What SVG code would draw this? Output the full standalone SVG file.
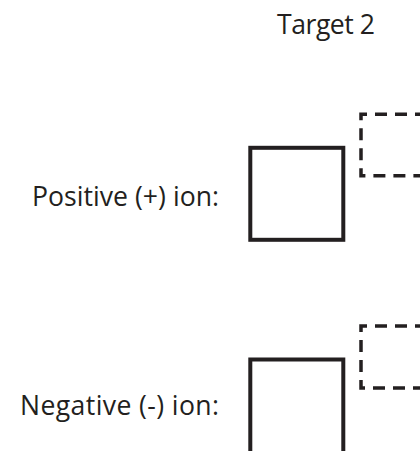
<svg xmlns="http://www.w3.org/2000/svg" width="420" height="451" viewBox="0 0 420 451">
<style>
.t{font-family:"Open Sans","Liberation Sans",Arial,sans-serif;font-size:26.6px;fill:#231f20}
.box{fill:none;stroke:#231f20;stroke-width:4}
.dash{fill:none;stroke:#231f20;stroke-width:3.5;stroke-dasharray:12 8;stroke-dashoffset:2}
</style>
<rect width="420" height="451" fill="#ffffff"/>
<g id="title"><text class="t" x="277" y="34" textLength="98" lengthAdjust="spacing">Target 2</text></g>
<g id="positive">
<text class="t" x="32" y="206" textLength="187" lengthAdjust="spacing">Positive (+) ion:</text>
<rect class="box" x="250.3" y="147.8" width="93" height="92"/>
</g>
<g id="positive-target">
<path class="dash" d="M425,114.2 H361 V175.8 H425"/>
</g>
<g id="negative">
<text class="t" x="20" y="415" textLength="199" lengthAdjust="spacing">Negative (-) ion:</text>
<path class="box" d="M250.3,460 V359.5 H343.3 V460"/>
</g>
<g id="negative-target">
<path class="dash" d="M425,326 H361 V388 H425"/>
</g>
<g id="connectors"></g>
</svg>
